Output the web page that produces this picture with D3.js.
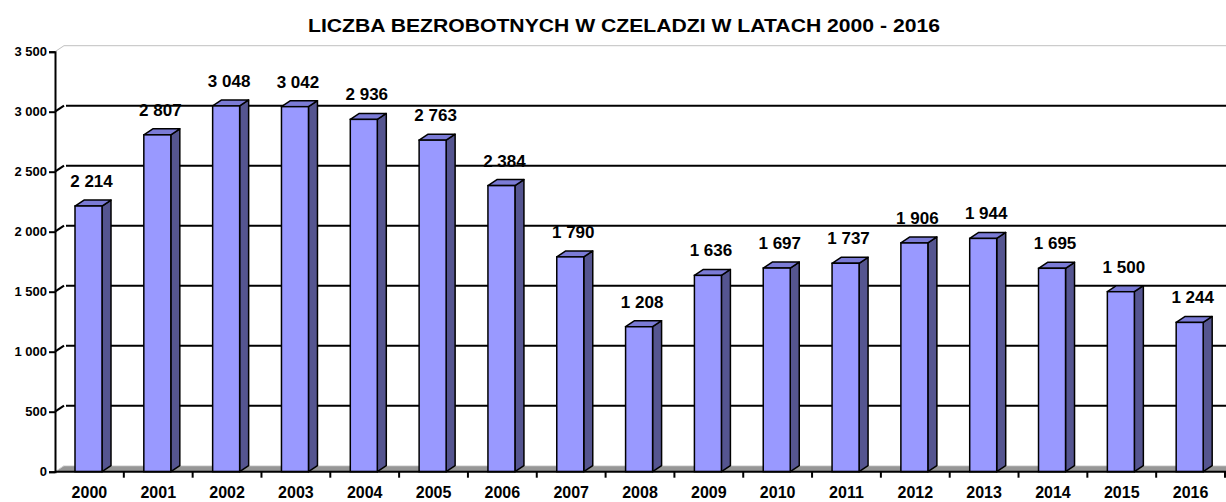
<!DOCTYPE html>
<html>
  <head>
    <meta charset="utf-8">
    <title>Liczba bezrobotnych w Czeladzi</title>
    <script src="https://d3js.org/d3.v7.min.js"></script>
    <style type="text/css">
      body {
        margin: 0;
        background: #ffffff;
      }

      svg {
        display: block;
        font-family: 'Liberation Sans', Arial, sans-serif;
      }

      .title {
        font-size: 19px;
        font-weight: bold;
      }

      .tick text {
        font-weight: bold;
      }

      .y-axis .tick text {
        font-size: 13px;
      }

      .x-axis .tick text {
        font-size: 16px;
      }
    </style>
  </head>

  <body>
    <div class="chart"></div>
    <script type="text/javascript">
      var years = ['2000', '2001', '2002', '2003', '2004', '2005', '2006', '2007', '2008',
                   '2009', '2010', '2011', '2012', '2013', '2014', '2015', '2016'];
      var unemployed = [2214, 2807, 3048, 3042, 2936, 2763, 2384, 1790, 1208,
                        1636, 1697, 1737, 1906, 1944, 1695, 1500, 1244];
      var yTicks = [0, 500, 1000, 1500, 2000, 2500, 3000, 3500];
      var titleText = 'LICZBA BEZROBOTNYCH W CZELADZI W LATACH 2000 - 2016';

      var width = 1226;
      var height = 502;
      var plotLeft = 55;
      var plotRight = 1225;
      var plotTop = 51.7;
      var plotBottom = 471.7;
      // depth of the 3d effect
      var dx = 9;
      var dy = -6;

      var data = years.map(function (y, i) { return {year: y, value: unemployed[i]}; });

      var x = d3.scaleBand()
        .domain(years)
        .range([plotLeft, plotRight]);

      var y = d3.scaleLinear()
        .domain([0, 3500])
        .range([plotBottom, plotTop]);

      var fmt = function (v) {
        return d3.format(',')(v).replace(/,/g, ' ');
      };

      var svg = d3.select('.chart').append('svg')
        .attr('width', width)
        .attr('height', height);

      svg.append('text')
        .attr('class', 'title')
        .attr('x', 624)
        .attr('y', 31.5)
        .attr('text-anchor', 'middle')
        .attr('textLength', 632)
        .attr('lengthAdjust', 'spacingAndGlyphs')
        .text(titleText);

      // floor
      svg.append('path')
        .attr('d', 'M' + plotLeft + ',' + plotBottom + 'L' + (plotLeft + dx) + ',' + (plotBottom + dy) +
                   'L' + width + ',' + (plotBottom + dy) + 'L' + width + ',' + plotBottom + 'Z')
        .attr('fill', '#969696');
      svg.append('line')
        .attr('x1', plotLeft + dx).attr('x2', width)
        .attr('y1', plotBottom + dy).attr('y2', plotBottom + dy)
        .attr('stroke', '#e6e6e6')
        .attr('stroke-width', 1);
      svg.append('line')
        .attr('x1', plotLeft).attr('y1', plotBottom)
        .attr('x2', plotLeft + dx).attr('y2', plotBottom + dy)
        .attr('stroke', '#d0d0d0')
        .attr('stroke-width', 1);

      // gridlines on the side and back walls
      var grid = svg.append('g');
      yTicks.slice(1).forEach(function (t) {
        var last = t === 3500;
        var col = last ? '#c0c0c0' : '#000000';
        grid.append('line')
          .attr('x1', plotLeft).attr('y1', y(t))
          .attr('x2', plotLeft + dx).attr('y2', y(t) + dy)
          .attr('stroke', col)
          .attr('stroke-width', last ? 1 : 2);
        grid.append('line')
          .attr('x1', plotLeft + dx + (last ? 0 : 2)).attr('y1', y(t) + dy)
          .attr('x2', width).attr('y2', y(t) + dy)
          .attr('stroke', col)
          .attr('stroke-width', last ? 1 : 2);
      });

      // bars
      var bw = 27;
      var off = 20;
      var bars = svg.append('g').selectAll('g')
        .data(data)
        .enter()
        .append('g');

      bars.append('path')
        .attr('d', function (d) {
          var x1 = x(d.year) + off + bw;
          var yt = y(d.value);
          return 'M' + x1 + ',' + plotBottom + 'L' + (x1 + dx) + ',' + (plotBottom + dy) +
                 'L' + (x1 + dx) + ',' + (yt + dy) + 'L' + x1 + ',' + yt + 'Z';
        })
        .attr('fill', '#555590')
        .attr('stroke', '#000')
        .attr('stroke-width', 1.5)
        .attr('stroke-linejoin', 'round');

      bars.append('path')
        .attr('d', function (d) {
          var x0 = x(d.year) + off;
          var yt = y(d.value);
          return 'M' + x0 + ',' + yt + 'L' + (x0 + dx) + ',' + (yt + dy) +
                 'L' + (x0 + bw + dx) + ',' + (yt + dy) + 'L' + (x0 + bw) + ',' + yt + 'Z';
        })
        .attr('fill', '#7b7bd6')
        .attr('stroke', '#000')
        .attr('stroke-width', 1.5)
        .attr('stroke-linejoin', 'round');

      bars.append('rect')
        .attr('x', function (d) { return x(d.year) + off; })
        .attr('y', function (d) { return y(d.value); })
        .attr('width', bw)
        .attr('height', function (d) { return plotBottom - y(d.value); })
        .attr('fill', '#9999ff')
        .attr('stroke', '#000')
        .attr('stroke-width', 1.5);

      bars.append('text')
        .attr('x', function (d) { return x(d.year) + off + bw / 2 + 3; })
        .attr('y', function (d) { return y(d.value) - 19; })
        .attr('text-anchor', 'middle')
        .attr('font-size', '17px')
        .attr('font-weight', 'bold')
        .text(function (d) { return fmt(d.value); });

      // axes
      var yAxis = d3.axisLeft(y)
        .tickValues(yTicks)
        .tickSize(6)
        .tickPadding(2)
        .tickFormat(fmt);

      svg.append('g')
        .attr('class', 'y-axis')
        .attr('transform', 'translate(' + plotLeft + ',0)')
        .call(yAxis)
        .call(function (g) {
          g.select('.domain').attr('stroke-width', 2);
          g.selectAll('.tick line').attr('stroke-width', 2);
        });

      var xAxis = d3.axisBottom(x)
        .tickSize(0)
        .tickPadding(15);

      svg.append('g')
        .attr('class', 'x-axis')
        .attr('transform', 'translate(0,' + plotBottom + ')')
        .call(xAxis)
        .call(function (g) {
          g.select('.domain').attr('d', 'M' + plotLeft + ',0H' + width).attr('stroke-width', 2);
        });

      // category separator ticks
      svg.append('g').selectAll('line')
        .data(years.slice(1).concat(['end']))
        .enter()
        .append('line')
        .attr('x1', function (d, i) { return plotLeft + (i + 1) * x.step(); })
        .attr('x2', function (d, i) { return plotLeft + (i + 1) * x.step(); })
        .attr('y1', plotBottom)
        .attr('y2', plotBottom + 6)
        .attr('stroke', '#000')
        .attr('stroke-width', 2);
    </script>
  </body>
</html>
